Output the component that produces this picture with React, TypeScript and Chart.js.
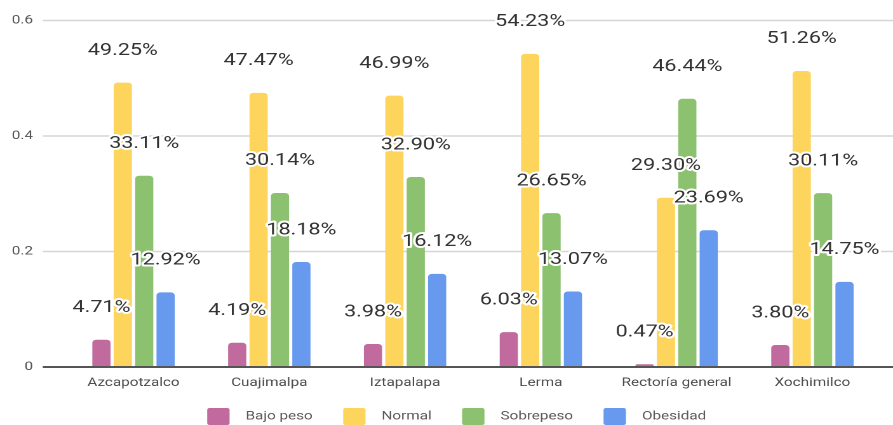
import React, { useEffect, useRef } from "react";
import { Chart, registerables } from "chart.js";

Chart.register(...registerables);

// ---- data ----
const categories = ["Azcapotzalco", "Cuajimalpa", "Iztapalapa", "Lerma", "Rectoría general", "Xochimilco"];
const bajoPeso = [0.0471, 0.0419, 0.0398, 0.0603, 0.0047, 0.038];
const normal = [0.4925, 0.4747, 0.4699, 0.5423, 0.293, 0.5126];
const sobrepeso = [0.3311, 0.3014, 0.329, 0.2665, 0.4644, 0.3011];
const obesidad = [0.1292, 0.1818, 0.1612, 0.1307, 0.2369, 0.1475];
const seriesNames = ["Bajo peso", "Normal", "Sobrepeso", "Obesidad"];
const seriesColors = ["#c06a9e", "#fdd45c", "#8cc16f", "#6799ee"];
const yTickValues = [0, 0.2, 0.4, 0.6];
const yTickLabels = ["0", "0.2", "0.4", "0.6"];

// ---- layout (native canvas, then stretched horizontally like the reference) ----
const W = 703;
const H = 425;
const STRETCH = 893 / W;
const FONT = "Roboto";

const gridPlugin = {
  id: "extendedGrid",
  beforeDatasetsDraw(chart: any) {
    const { ctx, chartArea, scales } = chart;
    const y = scales.y;
    const x0 = chartArea.left - 18;
    const x1 = chart.width;
    ctx.save();
    ctx.strokeStyle = "#d6d6d6";
    ctx.lineWidth = 1.4;
    yTickValues.forEach((v) => {
      if (v === 0) return;
      const py = y.getPixelForValue(v);
      ctx.beginPath();
      ctx.moveTo(x0, py);
      ctx.lineTo(x1, py);
      ctx.stroke();
    });
    ctx.restore();
  },
  afterDatasetsDraw(chart: any) {
    const { ctx, chartArea, scales } = chart;
    const y = scales.y;
    const x0 = chartArea.left - 18;
    const x1 = chart.width;
    ctx.save();
    // baseline
    const py0 = y.getPixelForValue(0);
    ctx.strokeStyle = "#555555";
    ctx.lineWidth = 2;
    ctx.beginPath();
    ctx.moveTo(x0, py0);
    ctx.lineTo(x1, py0);
    ctx.stroke();

    // value labels
    ctx.font = `17px ${FONT}`;
    ctx.textAlign = "center";
    ctx.textBaseline = "middle";
    ctx.lineJoin = "round";
    chart.data.datasets.forEach((ds: any, di: number) => {
      const meta = chart.getDatasetMeta(di);
      meta.data.forEach((el: any, i: number) => {
        const v = ds.data[i] as number;
        const text = (v * 100).toFixed(2) + "%";
        const tx = el.x;
        const ty = el.y - 32;
        ctx.strokeStyle = "#ffffff";
        ctx.lineWidth = 4;
        ctx.strokeText(text, tx, ty);
        ctx.fillStyle = "#333333";
        ctx.fillText(text, tx, ty);
      });
    });
    ctx.restore();
  },
  afterDraw(chart: any) {
    // legend
    const { ctx } = chart;
    const boxW = 17.6;
    const boxH = 17;
    const gap = 12.6;
    const spacing = 24;
    ctx.save();
    ctx.font = `12px ${FONT}`;
    const items = chart.data.datasets.map((ds: any) => ({
      text: ds.label as string,
      color: ds.backgroundColor as string,
      w: ctx.measureText(ds.label).width,
    }));
    const total = items.reduce((s: number, it: any) => s + boxW + gap + it.w, 0) + spacing * (items.length - 1);
    let x = (chart.width - total) / 2 + 8;
    const top = 408;
    items.forEach((it: any) => {
      ctx.fillStyle = it.color;
      ctx.beginPath();
      (ctx as any).roundRect(x, top, boxW, boxH, 2);
      ctx.fill();
      ctx.fillStyle = "#5a5a5a";
      ctx.textAlign = "left";
      ctx.textBaseline = "middle";
      ctx.fillText(it.text, x + boxW + gap, top + 8.5);
      x += boxW + gap + it.w + spacing;
    });
    ctx.restore();
  },
};

export default function App() {
  const canvasRef = useRef<HTMLCanvasElement | null>(null);

  useEffect(() => {
    if (!canvasRef.current) return;
    const seriesData = [bajoPeso, normal, sobrepeso, obesidad];
    const chart = new Chart(canvasRef.current, {
      type: "bar",
      data: {
        labels: categories,
        datasets: seriesData.map((d, i) => ({
          label: seriesNames[i],
          data: d,
          backgroundColor: seriesColors[i],
          borderRadius: 3,
          borderSkipped: "start",
          categoryPercentage: 0.63,
          barPercentage: 0.85,
        })),
      },
      options: {
        responsive: false,
        animation: false,
        devicePixelRatio: 2,
        layout: { padding: { left: 0, right: 10, top: 20.5, bottom: 34 } },
        plugins: {
          legend: { display: false },
          tooltip: { enabled: false },
        },
        scales: {
          x: {
            grid: { display: false, drawTicks: false },
            border: { display: false },
            afterFit: (scale: any) => {
              scale.height = 24;
              scale.paddingLeft = 0;
              scale.paddingRight = 0;
            },
            ticks: {
              color: "#4d4d4d",
              font: { family: FONT, size: 12 },
              padding: 9,
              maxRotation: 0,
              autoSkip: false,
            },
          },
          y: {
            min: 0,
            max: 0.6,
            grid: { display: false, drawTicks: false },
            border: { display: false },
            afterBuildTicks: (scale: any) => {
              scale.ticks = yTickValues.map((v) => ({ value: v }));
            },
            afterFit: (scale: any) => {
              scale.width = 51.65;
              scale.paddingTop = 0;
              scale.paddingBottom = 0;
            },
            ticks: {
              color: "#555555",
              font: { family: FONT, size: 12 },
              padding: 25.7,
              callback: (_v: any, i: number) => yTickLabels[i],
            },
          },
        },
      },
      plugins: [gridPlugin],
    });
    return () => chart.destroy();
  }, []);

  return (
    <div
      style={{
        position: "fixed",
        left: 0,
        top: 0,
        width: 893,
        height: 425,
        overflow: "hidden",
        background: "#ffffff",
      }}
    >
      <div style={{ width: W, height: H, transform: `scaleX(${STRETCH})`, transformOrigin: "0 0" }}>
        <canvas ref={canvasRef} width={W} height={H} style={{ width: W, height: H }} />
      </div>
    </div>
  );
}
